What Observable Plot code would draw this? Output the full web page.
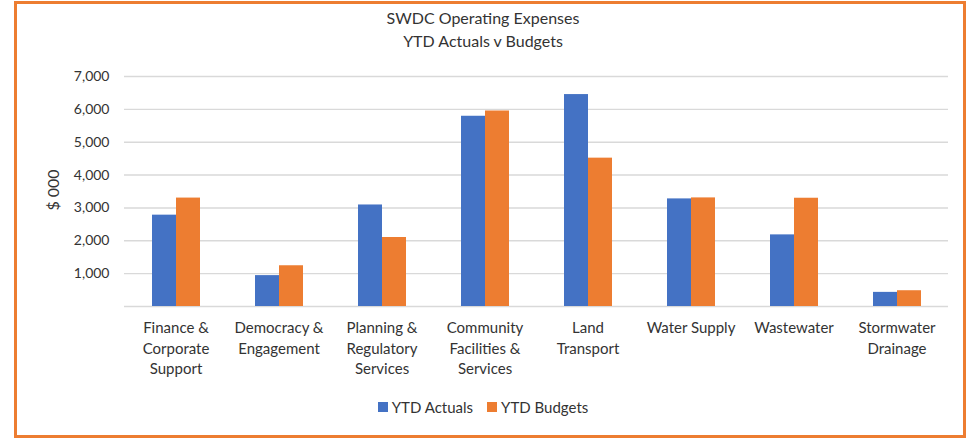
<!DOCTYPE html>
<html>
<head>
<meta charset="utf-8">
<script src="https://cdn.jsdelivr.net/npm/d3@7"></script>
<script src="https://cdn.jsdelivr.net/npm/@observablehq/plot@0.6"></script>
<style>
  html, body { margin: 0; padding: 0; background: #fff; }
  body { width: 966px; height: 439px; position: relative; overflow: hidden; font-family: Lato, "Open Sans", sans-serif; color: #333; }
  #frame { position: absolute; left: 14px; top: 1px; width: 952px; height: 437px; box-sizing: border-box; border: 3px solid #ED7D31; }
  .title { position: absolute; left: 0; width: 966px; text-align: center; font-size: 16px; color: #333; }
  #chart { position: absolute; left: 0; top: 50px; }
  #ylabel { position: absolute; left: 52px; top: 190px; transform: translate(-50%, -50%) rotate(-90deg); font-size: 16px; white-space: nowrap; color: #333; }
  #legend { position: absolute; top: 398px; left: 0; width: 966px; display: flex; justify-content: center; gap: 14px; font-size: 15px; color: #333; }
  .item { display: flex; align-items: center; gap: 4px; }
  .sw { width: 10px; height: 10px; display: inline-block; }
</style>
</head>
<body>
<div id="frame"></div>
<div class="title" style="top:8px">SWDC Operating Expenses</div>
<div class="title" style="top:31px">YTD Actuals v Budgets</div>
<div id="ylabel">$ 000</div>
<div id="chart"></div>
<div id="legend"></div>
<script>
const categories = [
  "Finance &\nCorporate\nSupport",
  "Democracy &\nEngagement",
  "Planning &\nRegulatory\nServices",
  "Community\nFacilities &\nServices",
  "Land\nTransport",
  "Water Supply",
  "Wastewater",
  "Stormwater\nDrainage"
];
const seriesNames = ["YTD Actuals", "YTD Budgets"];
const actuals = [2780, 940, 3090, 5790, 6450, 3275, 2180, 430];
const budgets = [3300, 1240, 2100, 5950, 4515, 3305, 3295, 480];
const yTicks = [1000, 2000, 3000, 4000, 5000, 6000, 7000];
const gridValues = [0, 1000, 2000, 3000, 4000, 5000, 6000, 7000];
const colors = ["#4472C4", "#ED7D31"];

const data = [];
categories.forEach((c, i) => {
  data.push({category: c, series: seriesNames[0], value: actuals[i]});
  data.push({category: c, series: seriesNames[1], value: budgets[i]});
});

const chart = Plot.plot({
  width: 966,
  height: 330,
  marginTop: 26,
  marginBottom: 74,
  marginLeft: 122,
  marginRight: 17,
  style: {fontFamily: "Lato, 'Open Sans', sans-serif", color: "#333", background: "transparent"},
  fx: {domain: categories, paddingInner: 0, paddingOuter: 0, label: null, axis: null},
  x: {domain: seriesNames, paddingInner: 0, paddingOuter: 1.11, axis: null},
  y: {domain: [0, 7000], label: null},
  color: {domain: seriesNames, range: colors},
  marks: [
    Plot.ruleY(gridValues, {stroke: "#d9d9d9", strokeWidth: 1.4}),
    Plot.barY(data, {fx: "category", x: "series", y: "value", fill: "series", inset: 0}),
    Plot.axisY({ticks: yTicks, tickFormat: d3.format(","), tickSize: 0, tickPadding: 15, fontSize: 14, label: null}),
    Plot.axisFx({anchor: "bottom", tickSize: 0, tickPadding: 12, fontSize: 15, lineHeight: 1.37, label: null})
  ]
});
document.getElementById("chart").appendChild(chart);

const legend = document.getElementById("legend");
seriesNames.forEach((s, i) => {
  const it = document.createElement("div");
  it.className = "item";
  const sw = document.createElement("span");
  sw.className = "sw";
  sw.style.background = colors[i];
  const t = document.createElement("span");
  t.textContent = s;
  it.appendChild(sw); it.appendChild(t);
  legend.appendChild(it);
});
</script>
</body>
</html>
